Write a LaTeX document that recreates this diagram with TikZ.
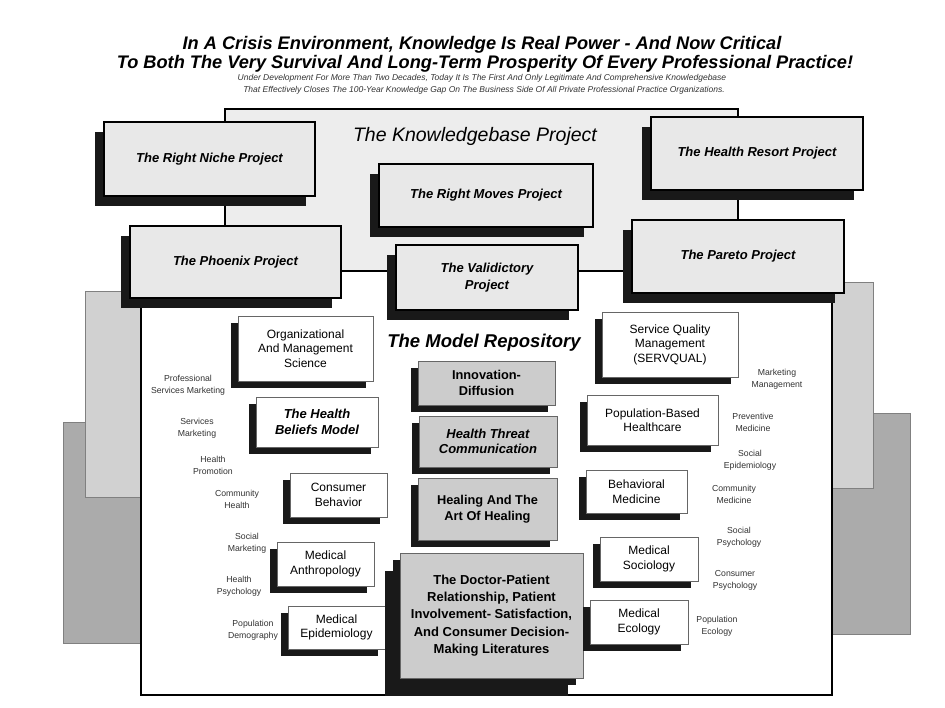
\documentclass[tikz,border=0pt]{standalone}
\usepackage{fontspec}
\setmainfont{Liberation Sans}
\usetikzlibrary{shadows}
\definecolor{stipple}{gray}{0.91}
\definecolor{kbfill}{gray}{0.93}
\definecolor{midfill}{gray}{0.80}
\definecolor{panellight}{gray}{0.82}
\definecolor{paneldark}{gray}{0.67}
\tikzset{
  proj/.style={draw, line width=1.6pt, fill=stipple, align=center, inner sep=0pt,
    font=\bfseries\itshape\fontsize{13}{17}\selectfont,
    drop shadow={shadow xshift=-9pt, shadow yshift=-10pt, fill=black!90, opacity=1}},
  mbox/.style={draw=black!60, line width=0.8pt, fill=white, align=center, inner sep=0pt,
    font=\fontsize{12}{14.5}\selectfont,
    drop shadow={shadow xshift=-7pt, shadow yshift=-7pt, fill=black!90, opacity=1}},
  cbox/.style={mbox, fill=midfill, font=\bfseries\fontsize{12.8}{15.5}\selectfont},
  lbl/.style={align=center, text=black!80, font=\fontsize{8.7}{12}\selectfont},
  panel/.style={draw=black!50, line width=0.4pt}
}
\begin{document}
\begin{tikzpicture}[x=1pt, y=-1pt]
\useasboundingbox (0,0) rectangle (945,708);
\fill[white] (0,0) rectangle (945,708);

\draw[panel, fill=paneldark] (63,422) rectangle (143,643);
\draw[panel, fill=panellight] (85,291) rectangle (141,497);
\draw[panel, fill=paneldark] (828,413) rectangle (910,634);
\draw[panel, fill=panellight] (828,282) rectangle (873,488);
\fill[white] (141,300) rectangle (832,695);
\draw[line width=1.2pt] (141,300) -- (141,695) -- (832,695) -- (832,300);

\draw[line width=1.2pt, fill=kbfill] (225,109) rectangle (738,271);
\node[font=\itshape\fontsize{19.5}{22}\selectfont] (kbtitle) at (475,136) {The Knowledgebase Project};

\node[proj, minimum width=211, minimum height=74] (niche) at (209.5,159) {The Right Niche Project};
\node[proj, minimum width=211, minimum height=72] (phoenix) at (235.5,262) {The Phoenix Project};
\node[proj, minimum width=214, minimum height=63] (moves) at (486,195.5) {The Right Moves Project};
\node[proj, minimum width=182, minimum height=65] (valid) at (487,277.5) {The Validictory\\Project};
\node[proj, minimum width=212, minimum height=73] (resort) at (757,153.5) {The Health Resort Project};
\node[proj, minimum width=212, minimum height=73] (pareto) at (738,256.5) {The Pareto Project};

\node[font=\bfseries\itshape\fontsize{18.2}{20}\selectfont] (head1) at (482,45) {In A Crisis Environment, Knowledge Is Real Power - And Now Critical};
\node[font=\bfseries\itshape\fontsize{18.2}{20}\selectfont] (head2) at (485,64) {To Both The Very Survival And Long-Term Prosperity Of Every Professional Practice!};
\node[font=\itshape\fontsize{8.5}{10}\selectfont, text=black!80] (sub1) at (482,78) {Under Development For More Than Two Decades, Today It Is The First And Only Legitimate And Comprehensive Knowledgebase};
\node[font=\itshape\fontsize{8.5}{10}\selectfont, text=black!80] (sub2) at (484,90) {That Effectively Closes The 100-Year Knowledge Gap On The Business Side Of All Private Professional Practice Organizations.};

\node[font=\bfseries\itshape\fontsize{18.5}{21}\selectfont] (mrtitle) at (484,343) {The Model Repository};

\node[mbox, minimum width=135, minimum height=65] (org) at (305.5,348.5) {Organizational\\And Management\\Science};
\node[mbox, minimum width=122, minimum height=50, font=\bfseries\itshape\fontsize{13}{15.5}\selectfont] (hbm) at (317,422) {The Health\\Beliefs Model};
\node[mbox, minimum width=97, minimum height=44] (cons) at (338.5,495) {Consumer\\Behavior};
\node[mbox, minimum width=97, minimum height=44] (anth) at (325.5,564) {Medical\\Anthropology};
\node[mbox, minimum width=97, minimum height=43] (epid) at (336.5,627.5) {Medical\\Epidemiology};

\node[cbox, minimum width=137, minimum height=44] (innov) at (486.5,383) {Innovation-\\Diffusion};
\node[cbox, minimum width=138, minimum height=51, font=\bfseries\itshape\fontsize{13}{15.5}\selectfont] (threat) at (488,441.5) {Health Threat\\Communication};
\node[cbox, minimum width=139, minimum height=62] (heal) at (487.5,509) {Healing And The\\Art Of Healing};
\node[cbox, minimum width=183, minimum height=125, font=\bfseries\fontsize{13}{17.3}\selectfont,
  drop shadow={shadow xshift=-15pt, shadow yshift=-18pt, fill=black!90, opacity=1}] (doctor) at (491.5,615.5)
  {The Doctor-Patient\\Relationship, Patient\\Involvement- Satisfaction,\\And Consumer Decision-\\Making Literatures};

\node[mbox, minimum width=136, minimum height=65] (serv) at (670,344.5) {Service Quality\\Management\\(SERVQUAL)};
\node[mbox, minimum width=131, minimum height=50] (pop) at (652.5,420) {Population-Based\\Healthcare};
\node[mbox, minimum width=101, minimum height=43] (behav) at (636.5,491.5) {Behavioral\\Medicine};
\node[mbox, minimum width=98, minimum height=44] (soc) at (649,559) {Medical\\Sociology};
\node[mbox, minimum width=98, minimum height=44] (ecol) at (639,622) {Medical\\Ecology};

\node[lbl] (psm) at (188,385) {Professional\\Services Marketing};
\node[lbl] (smkt) at (197,428) {Services\\Marketing};
\node[lbl] (hprom) at (213,465) {Health\\Promotion};
\node[lbl] (chealth) at (237,499) {Community\\Health};
\node[lbl] (socmkt) at (247,543) {Social\\Marketing};
\node[lbl] (hpsy) at (239,586) {Health\\Psychology};
\node[lbl] (popdem) at (253,630) {Population\\Demography};

\node[lbl] (mktman) at (777,379) {Marketing\\Management};
\node[lbl] (prevmed) at (753,422) {Preventive\\Medicine};
\node[lbl] (socepi) at (750,460) {Social\\Epidemiology};
\node[lbl] (commed) at (734,494) {Community\\Medicine};
\node[lbl] (socpsy) at (739,537) {Social\\Psychology};
\node[lbl] (conpsy) at (735,580) {Consumer\\Psychology};
\node[lbl] (popeco) at (717,626) {Population\\Ecology};
\end{tikzpicture}
\end{document}
